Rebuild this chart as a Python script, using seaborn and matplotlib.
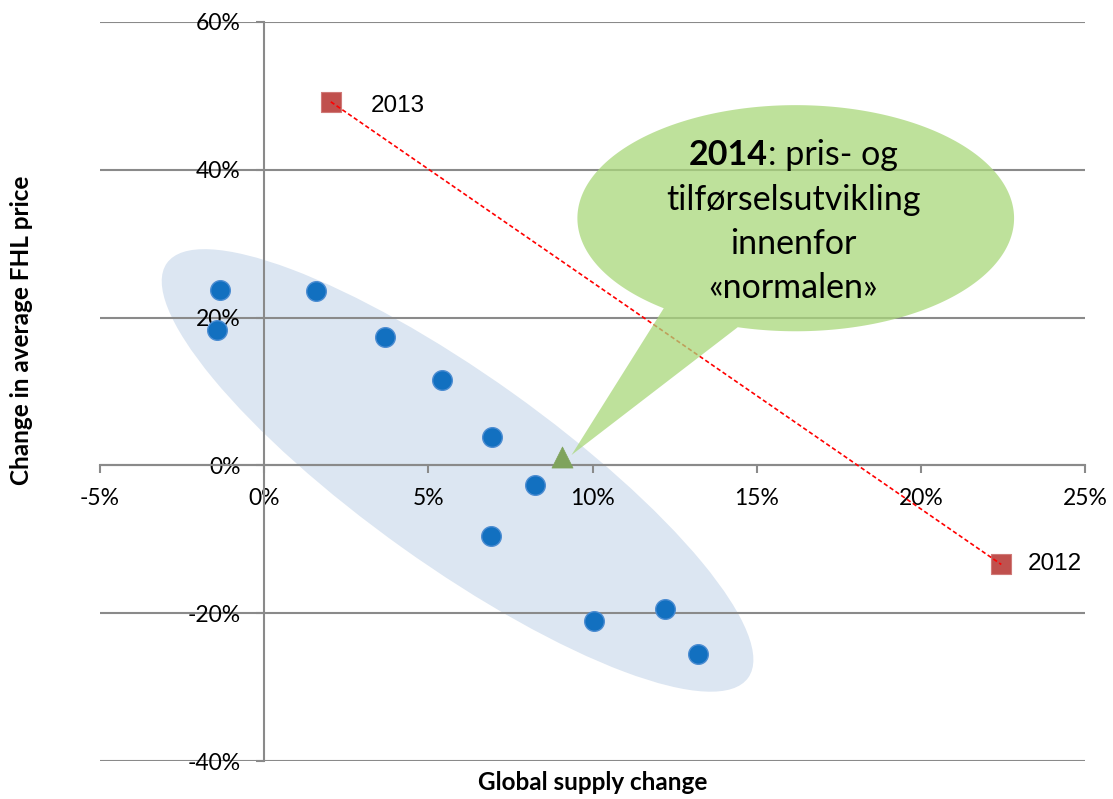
import numpy as np
import pandas as pd
import matplotlib
matplotlib.use("Agg")
import matplotlib.pyplot as plt
import seaborn as sns
from matplotlib.patches import Ellipse, Polygon
from matplotlib.transforms import ScaledTranslation

# ---------------- data ----------------
supply_hist = [-1.36, -1.44, 1.58, 3.67, 5.41, 6.93, 8.24, 6.91, 10.04, 12.21, 13.2]
price_hist = [23.8, 18.3, 23.6, 17.4, 11.5, 3.8, -2.7, -9.6, -21.1, -19.4, -25.5]
years_recent = ["2013", "2012"]
supply_recent = [2.03, 22.45]
price_recent = [49.2, -13.4]
supply_2014 = [9.06]
price_2014 = [1.2]
x_ticks = [-5, 0, 5, 10, 15, 20, 25]
y_ticks = [-40, -20, 0, 20, 40, 60]
callout_bold = "2014"
callout_rest = ": pris- og"
callout_lines = ["tilførselsutvikling", "innenfor", "«normalen»"]
x_label = "Global supply change"
y_label = "Change in average FHL price"

hist_df = pd.DataFrame({"supply": supply_hist, "price": price_hist})
recent_df = pd.DataFrame({"supply": supply_recent, "price": price_recent, "year": years_recent})
df2014 = pd.DataFrame({"supply": supply_2014, "price": price_2014})

# ---------------- style ----------------
sns.set_theme(style="white")
plt.rcParams['font.family'] = ['Lato', 'DejaVu Sans']
GRID = '#8a8a8a'

W, H = 1113, 799
fig = plt.figure(figsize=(W / 100, H / 100), dpi=100)
fig.patch.set_facecolor('white')
ax = fig.add_axes([100 / W, 1 - 761 / H, 985 / W, 739 / H])
ax.set_facecolor('none')

ax.set_xlim(-5, 25)
ax.set_ylim(-40, 60)

# normal-range ellipse (drawn in inches around a data centre)
ell_tr = fig.dpi_scale_trans + ScaledTranslation(5.89, -0.68, ax.transData)
ax.add_patch(Ellipse((0, 0), 7.14, 1.90, angle=-35.5, transform=ell_tr,
                     facecolor='#DCE6F2', edgecolor='none', zorder=0.2))

# scatter points
sns.scatterplot(data=hist_df, x="supply", y="price", ax=ax, s=200, marker='o',
                color='#1270C0', edgecolor='#4D8DD2', linewidth=1.0, zorder=3, legend=False)
sns.scatterplot(data=recent_df, x="supply", y="price", ax=ax, s=210, marker='s',
                color='#C0504D', edgecolor='#D07A78', linewidth=0.8, zorder=3, legend=False)
sns.scatterplot(data=df2014, x="supply", y="price", ax=ax, s=230, marker='^',
                color='#7FA35C', edgecolor='#7FA35C', linewidth=0.5, zorder=3, legend=False)

# dashed connection 2013 -> 2012
ax.plot(supply_recent, price_recent, color='#FF0000', lw=1.2,
        ls=(0, (2.6, 1.6)), zorder=3.5)

# year labels
offsets = {"2013": (29, -3), "2012": (19, 0)}
for xv, yv, lab in zip(supply_recent, price_recent, years_recent):
    ax.annotate(lab, (xv, yv), xytext=offsets[lab], textcoords='offset points',
                ha='left', va='center', fontsize=17.5, family=['Liberation Sans'],
                color='black', zorder=6)

# speech-bubble callout
cx, cy, rx, ry = 16.19, 33.45, 6.65, 15.3
tt = np.radians(np.linspace(254.6, 592.8, 300))
bubble = np.column_stack([cx + rx * np.cos(tt), cy + ry * np.sin(tt)])
tip = np.array([[supply_2014[0] + 0.3, price_2014[0] + 0.2]])
bubble = np.vstack([bubble, tip])
ax.add_patch(Polygon(bubble, closed=True, facecolor='#A9D77A', alpha=0.75,
                     edgecolor='none', zorder=4))

# axes styling
for s in ['top', 'right']:
    ax.spines[s].set_visible(False)
ax.spines['left'].set_position(('data', 0))
ax.spines['bottom'].set_position(('data', 0))
for s in ['left', 'bottom']:
    ax.spines[s].set_color(GRID)
    ax.spines[s].set_linewidth(1.5)
    ax.spines[s].set_zorder(2.5)

ax.set_xticks(x_ticks, labels=[f"{v}%" for v in x_ticks])
ax.set_yticks(y_ticks, labels=[f"{v}%" for v in y_ticks])
ax.tick_params(axis='both', which='major', length=6, width=1.5, color=GRID,
               labelsize=16.5, labelcolor='black', direction='out')
ax.tick_params(axis='x', pad=10, bottom=True)
ax.tick_params(axis='y', pad=11, left=True)
ax.yaxis.grid(True, color=GRID, lw=1.5)
ax.xaxis.grid(False)
ax.set_axisbelow(True)
ax.set_xlabel("")
ax.set_ylabel("")

# callout text
txt_kw = dict(fontsize=24.5, color='black', zorder=6, va='baseline')
tx = 16.12
base_y = [40.6, 34.6, 28.6, 22.6]
fig.canvas.draw()
r = fig.canvas.get_renderer()
tb = ax.text(0, 0, callout_bold, fontweight='bold', **txt_kw)
tr = ax.text(0, 0, callout_rest, **txt_kw)
wb = tb.get_window_extent(r).width
wr = tr.get_window_extent(r).width
px_center = ax.transData.transform((tx, base_y[0]))
left_px = px_center[0] - (wb + wr) / 2
inv = ax.transData.inverted()
tb.set_position(inv.transform((left_px, px_center[1])))
tb.set_ha('left')
tr.set_position(inv.transform((left_px + wb, px_center[1])))
tr.set_ha('left')
for line, yv in zip(callout_lines, base_y[1:]):
    ax.text(tx, yv, line, ha='center', **txt_kw)

# axis titles
fig.text(22 / W, 1 - 330 / H, y_label, rotation=90, ha='center', va='center',
         fontsize=17.5, fontweight='bold', color='black')
fig.text(593 / W, 1 - 783 / H, x_label, ha='center', va='center',
         fontsize=17.5, fontweight='bold', color='black')

fig.savefig("out.png", dpi=100, facecolor='white')
